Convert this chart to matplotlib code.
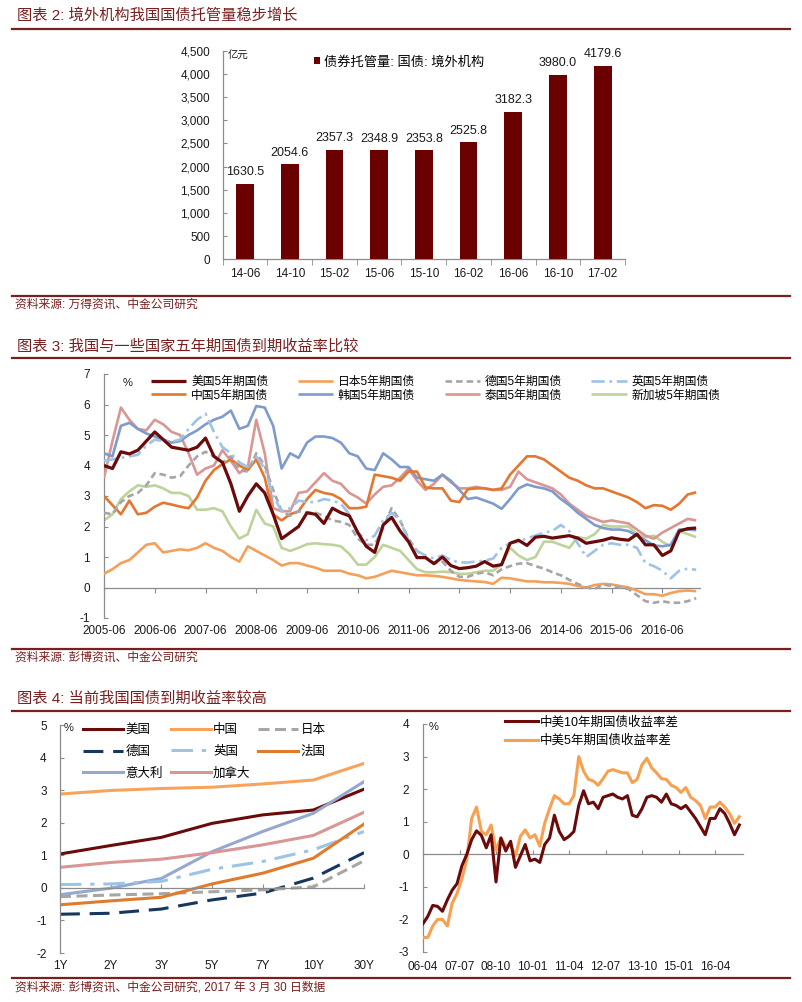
import numpy as np
import pandas as pd
import matplotlib
matplotlib.use('Agg')
import matplotlib.pyplot as plt
from matplotlib.lines import Line2D

plt.rcParams['font.family'] = ['Liberation Sans', 'Noto Sans CJK SC', 'DejaVu Sans']
plt.rcParams['axes.unicode_minus'] = False

# ------------------------------------------------------------------ data
bar_categories = ['14-06', '14-10', '15-02', '15-06', '15-10', '16-02', '16-06', '16-10', '17-02']
bar_values = [1630.5, 2054.6, 2357.3, 2348.9, 2353.8, 2525.8, 3182.3, 3980.0, 4179.6]
bar_label = '债券托管量: 国债: 境外机构'

yield_dates = pd.date_range('2005-06-01', '2017-02-01', freq='2MS')
yield_tick_labels = ['2005-06', '2006-06', '2007-06', '2008-06', '2009-06', '2010-06',
                     '2011-06', '2012-06', '2013-06', '2014-06', '2015-06', '2016-06']
us5 = [4.0, 3.9, 4.45, 4.38, 4.5, 4.8, 5.1, 4.85, 4.6, 4.55,
       4.5, 4.6, 4.9, 4.3, 4.1, 3.4, 2.5, 3.0, 3.4, 3.1,
       2.4, 1.6, 1.8, 2.0, 2.45, 2.4, 2.1, 2.6, 2.45, 2.35,
       1.8, 1.35, 1.15, 2.05, 2.3, 1.85, 1.5, 0.98, 0.98, 0.78,
       1.0, 0.72, 0.62, 0.65, 0.7, 0.85, 0.7, 0.75, 1.45, 1.55,
       1.38, 1.65, 1.68, 1.62, 1.66, 1.7, 1.62, 1.45, 1.5, 1.55,
       1.63, 1.58, 1.55, 1.75, 1.4, 1.4, 1.05, 1.2, 1.85, 1.93, 1.95]
jp5 = [0.45, 0.6, 0.8, 0.9, 1.15, 1.4, 1.45, 1.15, 1.2, 1.25,
       1.22, 1.3, 1.45, 1.3, 1.2, 1.0, 0.85, 1.35, 1.2, 1.05,
       0.9, 0.72, 0.8, 0.8, 0.72, 0.65, 0.55, 0.55, 0.55, 0.45,
       0.4, 0.3, 0.35, 0.45, 0.55, 0.5, 0.45, 0.4, 0.4, 0.38,
       0.35, 0.3, 0.25, 0.22, 0.2, 0.18, 0.12, 0.32, 0.3, 0.25,
       0.2, 0.2, 0.17, 0.17, 0.15, 0.12, 0.05, 0.0, 0.08, 0.12,
       0.1, 0.05, 0.0, -0.1, -0.22, -0.22, -0.27, -0.18, -0.12, -0.1, -0.12]
de5 = [2.45, 2.4, 2.8, 3.0, 3.1, 3.35, 3.75, 3.7, 3.6, 3.65,
       4.0, 4.3, 4.45, 4.3, 4.1, 4.3, 3.85, 3.8, 4.4, 4.0,
       3.2, 2.5, 2.35, 2.5, 2.45, 2.45, 2.35, 2.2, 2.15, 2.05,
       1.6, 1.4, 1.4, 1.95, 2.6, 2.2, 1.6, 1.2, 1.0, 0.8,
       0.85, 0.55, 0.35, 0.35, 0.45, 0.5, 0.4, 0.6, 0.7, 0.78,
       0.8, 0.7, 0.62, 0.5, 0.4, 0.25, 0.12, 0.0, -0.05, 0.1,
       0.05, 0.0, -0.05, -0.25, -0.45, -0.5, -0.45, -0.5, -0.5, -0.45, -0.35]
uk5 = [4.15, 4.2, 4.25, 4.3, 4.35, 4.65, 4.85, 4.8, 4.78, 4.85,
       5.2, 5.5, 5.7, 5.1, 4.6, 4.4, 4.1, 3.95, 4.3, 3.9,
       3.0, 2.5, 2.6, 2.85, 2.8, 2.8, 2.9, 2.85, 2.75, 2.4,
       1.8, 1.55, 1.7, 2.2, 2.45, 2.2, 1.55, 1.2, 1.05, 0.95,
       1.05, 0.9, 0.82, 0.82, 0.85, 0.88, 0.95, 1.3, 1.45, 1.5,
       1.62, 1.7, 1.8, 1.85, 2.05, 1.85, 1.45, 1.0, 1.2, 1.4,
       1.45, 1.4, 1.4, 1.3, 0.8, 0.7, 0.55, 0.3, 0.55, 0.62, 0.58]
cn5 = [3.0, 2.7, 2.4, 2.85, 2.4, 2.45, 2.65, 2.78, 2.72, 2.65,
       2.6, 2.95, 3.5, 3.85, 4.05, 4.2, 4.0, 3.85, 4.2, 3.6,
       2.4, 2.2, 2.4, 2.5, 2.9, 3.2, 3.1, 3.05, 2.9, 2.6,
       2.6, 2.65, 3.7, 3.65, 3.6, 3.5, 3.8, 3.8, 3.28, 3.25,
       3.25, 2.85, 2.8, 3.22, 3.25, 3.25, 3.2, 3.25, 3.7, 4.0,
       4.3, 4.3, 4.2, 4.0, 3.8, 3.6, 3.5, 3.35, 3.25, 3.25,
       3.15, 3.05, 2.95, 2.8, 2.6, 2.7, 2.68, 2.55, 2.75, 3.05, 3.12]
kr5 = [4.4, 4.3, 5.3, 5.4, 5.2, 5.05, 4.95, 4.85, 4.75, 4.8,
       5.0, 5.15, 5.35, 5.5, 5.6, 5.8, 5.2, 5.3, 5.95, 5.9,
       5.3, 3.9, 4.4, 4.25, 4.75, 4.95, 4.95, 4.9, 4.75, 4.4,
       4.3, 3.9, 3.85, 4.4, 4.2, 3.95, 3.95, 3.6, 3.55, 3.5,
       3.7, 3.5, 3.2, 2.9, 2.95, 2.85, 2.75, 2.58, 2.9, 3.25,
       3.38, 3.3, 3.25, 3.15, 2.9, 2.7, 2.45, 2.25, 2.05, 1.95,
       1.9, 1.9, 1.85, 1.7, 1.55, 1.38, 1.35, 1.4, 1.9, 1.9, 1.88]
th5 = [3.6, 4.8, 5.9, 5.5, 5.2, 5.15, 5.5, 5.35, 5.1, 5.0,
       4.4, 3.7, 3.9, 4.0, 4.5, 4.15, 3.75, 3.95, 5.5, 4.4,
       2.6, 2.5, 2.5, 3.1, 3.15, 3.45, 3.75, 3.5, 3.4, 3.1,
       2.95, 2.75, 3.05, 3.3, 3.35, 3.6, 3.9, 3.5, 3.2, 3.4,
       3.7, 3.45, 3.25, 3.25, 3.3, 3.25, 3.2, 3.2, 3.3, 3.8,
       3.55, 3.45, 3.35, 3.25, 3.05, 2.75, 2.55, 2.35, 2.25, 2.15,
       2.2, 2.15, 2.1, 1.9, 1.7, 1.6, 1.8, 1.95, 2.1, 2.25, 2.2]
sg5 = [2.2, 2.4, 2.9, 3.15, 3.35, 3.3, 3.35, 3.25, 3.1, 3.1,
       3.0, 2.55, 2.55, 2.6, 2.5, 2.0, 1.6, 1.75, 2.55, 2.1,
       2.0, 1.3, 1.2, 1.3, 1.42, 1.45, 1.42, 1.4, 1.35, 1.1,
       0.75, 0.75, 1.0, 1.4, 1.3, 1.2, 0.9, 0.6, 0.5, 0.5,
       0.52, 0.5, 0.45, 0.45, 0.5, 0.55, 0.55, 0.75, 1.3, 1.05,
       0.9, 1.0, 1.5, 1.5, 1.4, 1.3, 1.65, 1.6, 1.75, 2.05,
       2.0, 2.0, 2.0, 1.75, 1.65, 1.7, 1.5, 1.35, 1.85, 1.75, 1.65]

curve_tenors = ['1Y', '2Y', '3Y', '5Y', '7Y', '10Y', '30Y']
curve_us = [1.04, 1.30, 1.55, 1.98, 2.24, 2.39, 3.03]
curve_cn = [2.88, 2.99, 3.05, 3.09, 3.19, 3.31, 3.82]
curve_jp = [-0.27, -0.22, -0.18, -0.12, -0.06, 0.03, 0.83]
curve_de = [-0.81, -0.78, -0.65, -0.37, -0.16, 0.30, 1.08]
curve_uk = [0.10, 0.12, 0.20, 0.57, 0.81, 1.17, 1.73]
curve_fr = [-0.52, -0.40, -0.29, 0.12, 0.45, 0.91, 1.96]
curve_it = [-0.21, -0.01, 0.29, 1.11, 1.73, 2.29, 3.26]
curve_ca = [0.63, 0.78, 0.88, 1.08, 1.32, 1.61, 2.32]

spread_dates = pd.date_range('2006-04-01', '2017-02-01', freq='2MS')
spread_tick_labels = ['06-04', '07-07', '08-10', '10-01', '11-04', '12-07', '13-10', '15-01', '16-04']
spread_10y = [-2.13, -1.9, -1.57, -1.6, -1.75, -1.4, -1.1, -0.9, -0.35, 0.0,
              0.45, 0.72, 0.58, 0.2, 0.6, -0.85, 0.5, 0.1, 0.4, -0.4,
              -0.05, 0.3, -0.2, -0.15, -0.25, 0.3, 0.5, 1.2, 0.7, 0.45,
              0.55, 0.7, 1.5, 1.95, 1.55, 1.6, 1.4, 1.75, 1.8, 1.85,
              1.75, 1.7, 1.8, 1.2, 1.15, 1.4, 1.75, 1.8, 1.75, 1.6,
              1.85, 1.55, 1.5, 1.4, 1.5, 1.3, 1.1, 0.85, 0.6, 1.1,
              1.1, 1.4, 1.25, 0.95, 0.6, 0.9]
spread_5y = [-2.56, -2.55, -2.2, -2.0, -2.0, -2.2, -1.5, -1.2, -0.75, -0.15,
             1.1, 1.45, 0.7, 0.6, 0.9, 0.12, 0.5, 0.25, 0.3, -0.05,
             0.55, 0.75, 0.5, 0.6, 0.25, 0.95, 1.4, 1.8, 1.7, 1.55,
             1.55, 1.8, 3.0, 2.55, 2.3, 2.25, 2.12, 2.32, 2.55, 2.6,
             2.55, 2.5, 2.5, 2.2, 2.3, 2.75, 2.95, 2.65, 2.5, 2.32,
             2.3, 2.12, 2.05, 1.9, 2.05, 1.75, 1.65, 1.5, 1.1, 1.45,
             1.45, 1.6, 1.45, 1.25, 0.95, 1.15]

# ------------------------------------------------------------------ layout helpers
W, H = 802, 1002
fig = plt.figure(figsize=(W / 100, H / 100), dpi=100)

RED = '#7A1F1F'
AX_C = '#8C8C8C'
TXT = '#1A1A1A'
FS = 8.5


def axes_px(left, top, right, bottom):
    return fig.add_axes([left / W, 1 - bottom / H, (right - left) / W, (bottom - top) / H])


def hline_px(y, x0=12, x1=790, lw=1.6):
    fig.add_artist(Line2D([x0 / W, x1 / W], [1 - y / H, 1 - y / H], color=RED, lw=lw,
                          transform=fig.transFigure))


def text_px(x, y, s, **kw):
    fig.text(x / W, 1 - y / H, s, transform=fig.transFigure, va='center', ha='left', **kw)


def months_since(dates, start):
    dates = pd.DatetimeIndex(dates)
    start = pd.Timestamp(start)
    return np.asarray((dates.year - start.year) * 12 + (dates.month - start.month), dtype=float)


def style_axes(ax):
    for s in ['top', 'right']:
        ax.spines[s].set_visible(False)
    for s in ['left', 'bottom']:
        ax.spines[s].set_color(AX_C)
        ax.spines[s].set_linewidth(0.9)
    ax.tick_params(colors=AX_C, labelcolor=TXT, labelsize=FS)
    ax.patch.set_alpha(0)


# ------------------------------------------------------------------ titles / separators
text_px(17, 15, '图表 2: 境外机构我国国债托管量稳步增长', fontsize=11, color=RED)
hline_px(29)
hline_px(296)
text_px(15, 305, '资料来源: 万得资讯、中金公司研究', fontsize=8.5, color=RED)
text_px(17, 346, '图表 3: 我国与一些国家五年期国债到期收益率比较', fontsize=11, color=RED)
hline_px(358)
hline_px(649)
text_px(15, 658, '资料来源: 彭博资讯、中金公司研究', fontsize=8.5, color=RED)
text_px(17, 699, '图表 4: 当前我国国债到期收益率较高', fontsize=11, color=RED)
hline_px(711)
hline_px(978)
text_px(15, 988, '资料来源: 彭博资讯、中金公司研究, 2017 年 3 月 30 日数据', fontsize=8.5, color=RED)

# ------------------------------------------------------------------ chart 1: bars
ax1 = axes_px(222.7, 50.7, 625, 259.3)
xb = np.arange(len(bar_categories))
ax1.bar(xb, bar_values, width=0.4, color='#6B0000', label=bar_label, zorder=3)
for xi, v in zip(xb, bar_values):
    ax1.annotate(f'{v:.1f}', (xi, v), xytext=(0, 4), textcoords='offset points',
                 ha='center', va='bottom', fontsize=9, color=TXT)
ax1.set_xlim(-0.5, len(bar_categories) - 0.5)
ax1.set_ylim(0, 4500)
yt = np.arange(0, 4501, 500)
ax1.set_yticks(yt)
ax1.set_yticklabels([f'{v:,}' for v in yt])
ax1.set_xticks(xb)
ax1.set_xticklabels(bar_categories)
ax1.set_xticks(np.arange(-0.5, len(bar_categories)), minor=True)
style_axes(ax1)
ax1.tick_params(axis='x', which='major', length=0, pad=6)
ax1.tick_params(axis='x', which='minor', length=4, direction='out', color=AX_C)
ax1.tick_params(axis='y', direction='in', length=3, pad=9)
ax1.text(0.012, 0.975, '亿元', transform=ax1.transAxes, fontsize=7.5, color=TXT,
         ha='left', va='center')
ax1.legend(loc='center left', bbox_to_anchor=(0.228, 0.946), frameon=False, fontsize=9.5,
           handlelength=0.45, handleheight=0.45, handletextpad=0.3, borderpad=0, borderaxespad=0)

# ------------------------------------------------------------------ chart 2: 5y yields
ax2 = axes_px(104, 374, 700.4, 618)
m2 = months_since(yield_dates, '2005-06-01')
series2 = [
    ('美国5年期国债', us5, dict(color='#6B0A0A', lw=2.3, zorder=10)),
    ('中国5年期国债', cn5, dict(color='#E3772F', lw=1.9, zorder=6)),
    ('日本5年期国债', jp5, dict(color='#F5A05A', lw=1.9, zorder=5)),
    ('韩国5年期国债', kr5, dict(color='#7F9BCB', lw=1.9, zorder=4)),
    ('德国5年期国债', de5, dict(color='#A5A5A5', lw=1.9, dashes=(2.5, 1.5), zorder=7)),
    ('泰国5年期国债', th5, dict(color='#D99694', lw=1.9, zorder=3)),
    ('英国5年期国债', uk5, dict(color='#9DC3E6', lw=1.9, dashes=(5, 1.8, 1, 1.8), zorder=8)),
    ('新加坡5年期国债', sg5, dict(color='#BCD39A', lw=1.9, zorder=2)),
]
for lab, vals, kw in series2:
    ax2.plot(m2, vals, label=lab, solid_capstyle='butt', **kw)
ax2.set_xlim(0, 141)
ax2.set_ylim(-1, 7)
ax2.set_yticks(range(-1, 8))
ax2.set_xticks(months_since(pd.to_datetime(yield_tick_labels), '2005-06-01'))
ax2.set_xticklabels(yield_tick_labels)
style_axes(ax2)
ax2.spines['bottom'].set_position(('data', 0))
ax2.tick_params(axis='x', direction='out', length=3.5, pad=23.5)
ax2.tick_params(axis='y', direction='in', length=3, pad=10)
ax2.text((128 - 104) / 596.4, (618 - 383) / 244, '%', transform=ax2.transAxes,
         fontsize=8, color=TXT, ha='center', va='center')
ax2.legend(ncol=4, loc='upper left', bbox_to_anchor=((151 - 104) / 596.4, (618 - 376) / 244),
           frameon=False, fontsize=FS, handlelength=3.0, handletextpad=0.4,
           columnspacing=2.5, labelspacing=0.12, borderpad=0, borderaxespad=0)

# ------------------------------------------------------------------ chart 3: yield curves
ax3 = axes_px(60, 725, 364, 953)
xc = np.arange(len(curve_tenors))
series3 = [
    ('美国', curve_us, dict(color='#6B0A0A', lw=2.2)),
    ('德国', curve_de, dict(color='#17375E', lw=2.2, dashes=(6.5, 3.2))),
    ('意大利', curve_it, dict(color='#95A8CF', lw=2.2)),
    ('中国', curve_cn, dict(color='#F8A35C', lw=2.2)),
    ('英国', curve_uk, dict(color='#9DC3E6', lw=2.2, dashes=(7, 2.9, 1.4, 2.9))),
    ('加拿大', curve_ca, dict(color='#D99694', lw=2.2)),
    ('日本', curve_jp, dict(color='#A6A6A6', lw=2.2, dashes=(3.6, 1.8))),
    ('法国', curve_fr, dict(color='#E07B2E', lw=2.2)),
]
for lab, vals, kw in series3:
    ax3.plot(xc, vals, label=lab, **kw)
ax3.set_xlim(0, len(curve_tenors) - 1)
ax3.set_ylim(-2, 5)
ax3.set_yticks(range(-2, 6))
ax3.set_xticks(xc)
ax3.set_xticklabels(curve_tenors)
style_axes(ax3)
ax3.spines['bottom'].set_position(('data', 0))
ax3.tick_params(axis='x', direction='in', length=3, pad=52)
ax3.tick_params(axis='y', direction='in', length=3, pad=9.5)
ax3.text((64 - 60) / 304, (953 - 728) / 228, '%', transform=ax3.transAxes,
         fontsize=8, color=TXT, ha='left', va='center')
ax3.legend(ncol=3, loc='upper left', bbox_to_anchor=((83 - 60) / 304, (953 - 724) / 228),
           frameon=False, fontsize=9, handlelength=3.2, handletextpad=0.2,
           columnspacing=0.6, labelspacing=0.78, borderpad=0, borderaxespad=0)

# ------------------------------------------------------------------ chart 4: spreads
ax4 = axes_px(423, 724, 743, 952)
m4 = months_since(spread_dates, '2006-04-01')
ax4.plot(m4, spread_10y, color='#6B0A0A', lw=2.2, label='中美10年期国债收益率差', zorder=4)
ax4.plot(m4, spread_5y, color='#F7A050', lw=2.2, label='中美5年期国债收益率差', zorder=3)
ax4.set_xlim(0, 131.5)
ax4.set_ylim(-3, 4)
ax4.set_yticks(range(-3, 5))
ax4.set_xticks(months_since(pd.to_datetime(['20' + s for s in spread_tick_labels]), '2006-04-01'))
ax4.set_xticklabels(spread_tick_labels)
style_axes(ax4)
ax4.spines['bottom'].set_position(('data', 0))
ax4.tick_params(axis='x', direction='in', length=3, pad=77)
ax4.tick_params(axis='y', direction='in', length=3, pad=10)
ax4.text((429 - 423) / 320, (952 - 727) / 228, '%', transform=ax4.transAxes,
         fontsize=8, color=TXT, ha='left', va='center')
h, l = ax4.get_legend_handles_labels()
ax4.legend(h, l, loc='upper left', bbox_to_anchor=((505 - 423) / 320, (952 - 716) / 228),
           frameon=False, fontsize=9, handlelength=2.6, handletextpad=0.2,
           labelspacing=0.5, borderpad=0, borderaxespad=0)

fig.savefig('out.png', dpi=100)
